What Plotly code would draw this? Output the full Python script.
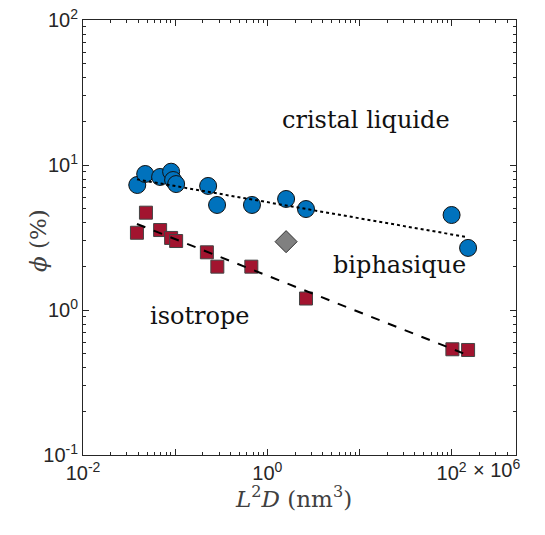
import plotly.graph_objects as go
import numpy as np

# Liquid-crystal phase (blue circles)
lc_x = [0.0388, 0.0473, 0.0687, 0.0904, 0.095, 0.1025, 0.228, 0.285, 0.682, 1.60, 2.63, 100, 151]
lc_y = [7.28, 8.67, 8.27, 8.99, 7.88, 7.39, 7.17, 5.30, 5.30, 5.83, 4.97, 4.52, 2.68]

# Isotropic phase (red squares)
iso_x = [0.0385, 0.0482, 0.0687, 0.0904, 0.1025, 0.221, 0.287, 0.671, 2.63, 102, 151]
iso_y = [3.41, 4.69, 3.56, 3.14, 2.99, 2.50, 1.99, 1.99, 1.20, 0.536, 0.53]

# Biphasic point (grey diamond)
bi_x = [1.60]
bi_y = [2.96]

# Power-law fits
fit_lc_x = [0.0385, 140]
fit_lc_y = [7.96, 3.20]
fit_iso_x = [0.0385, 140]
fit_iso_y = [3.92, 0.497]

x_major = [1e-2, 1e-1, 1e0, 1e1, 1e2]
x_ticktext = ["10<sup>-2</sup>", "", "10<sup>0</sup>", "", "10<sup>2</sup>"]
y_major = [1e-1, 1e0, 1e1, 1e2]
y_ticktext = ["10<sup>-1</sup>", "10<sup>0</sup>", "10<sup>1</sup>", "10<sup>2</sup>"]

x_minor = [m * 10.0**e for e in range(-2, 3) for m in range(2, 10) if m * 10.0**e < 500]
y_minor = [m * 10.0**e for e in range(-1, 2) for m in range(2, 10)]

fig = go.Figure()
fig.add_trace(go.Scatter(x=lc_x, y=lc_y, mode="markers",
                         marker=dict(symbol="circle", size=17, color="#0072BD",
                                     line=dict(color="#111111", width=1))))
fig.add_trace(go.Scatter(x=iso_x, y=iso_y, mode="markers",
                         marker=dict(symbol="square", size=13, color="#A2142F",
                                     line=dict(color="#444444", width=1))))
fig.add_trace(go.Scatter(x=bi_x, y=bi_y, mode="markers",
                         marker=dict(symbol="diamond", size=17, color="#808080",
                                     line=dict(color="#333333", width=1))))
fig.add_trace(go.Scatter(x=fit_lc_x, y=fit_lc_y, mode="lines",
                         line=dict(color="black", width=2, dash="dot")))
fig.add_trace(go.Scatter(x=fit_iso_x, y=fit_iso_y, mode="lines",
                         line=dict(color="black", width=2, dash="dash")))

tick_font = dict(family="Liberation Sans, Arial, sans-serif", size=20, color="#262626")
axis_common = dict(
    type="log", showgrid=False, zeroline=False, showline=True,
    linecolor="#262626", linewidth=1, mirror="allticks",
    ticks="inside", ticklen=6, tickcolor="#262626",
    tickfont=tick_font, automargin=False, ticklabeloverflow="allow",
)

fig.update_xaxes(**axis_common, range=[-2, np.log10(500)],
                 tickmode="array", tickvals=x_major, ticktext=x_ticktext,
                 minor=dict(tickmode="array", tickvals=x_minor, ticks="inside",
                            ticklen=3, tickcolor="#262626", showgrid=False))
fig.update_yaxes(**axis_common, range=[-1, 2],
                 tickmode="array", tickvals=y_major, ticktext=y_ticktext,
                 minor=dict(tickmode="array", tickvals=y_minor, ticks="inside",
                            ticklen=3, tickcolor="#262626", showgrid=False))

title_font = dict(family="DejaVu Serif, serif", size=23, color="#404040")
fig.add_annotation(xref="paper", yref="paper", x=0.485, y=-0.097,
                   text="<i>L</i><sup>2</sup><i>D</i> (nm<sup>3</sup>)",
                   showarrow=False, font=title_font, xanchor="center", yanchor="middle")
fig.add_annotation(xref="paper", yref="paper", x=-0.104, y=0.494,
                   text="<i>ϕ</i> (%)", textangle=-90,
                   showarrow=False, font=title_font, xanchor="center", yanchor="middle")

text_font = dict(family="DejaVu Serif, serif", size=24, color="#111111")
fig.add_annotation(x=np.log10(11.7), y=np.log10(20.4), text="cristal liquide",
                   showarrow=False, font=text_font)
fig.add_annotation(x=np.log10(27.4), y=np.log10(2.04), text="biphasique",
                   showarrow=False, font=text_font)
fig.add_annotation(x=np.log10(0.187), y=np.log10(0.91), text="isotrope",
                   showarrow=False, font=text_font)
fig.add_annotation(xref="paper", yref="paper", x=1.0, y=0, yshift=-13, xshift=-45,
                   xanchor="left", yanchor="middle",
                   text="× 10<sup>6</sup>", showarrow=False, font=tick_font)

fig.update_layout(width=545, height=535, showlegend=False,
                  plot_bgcolor="white", paper_bgcolor="white",
                  margin=dict(l=75, r=37, t=12, b=88))

fig.write_html("out.html")
